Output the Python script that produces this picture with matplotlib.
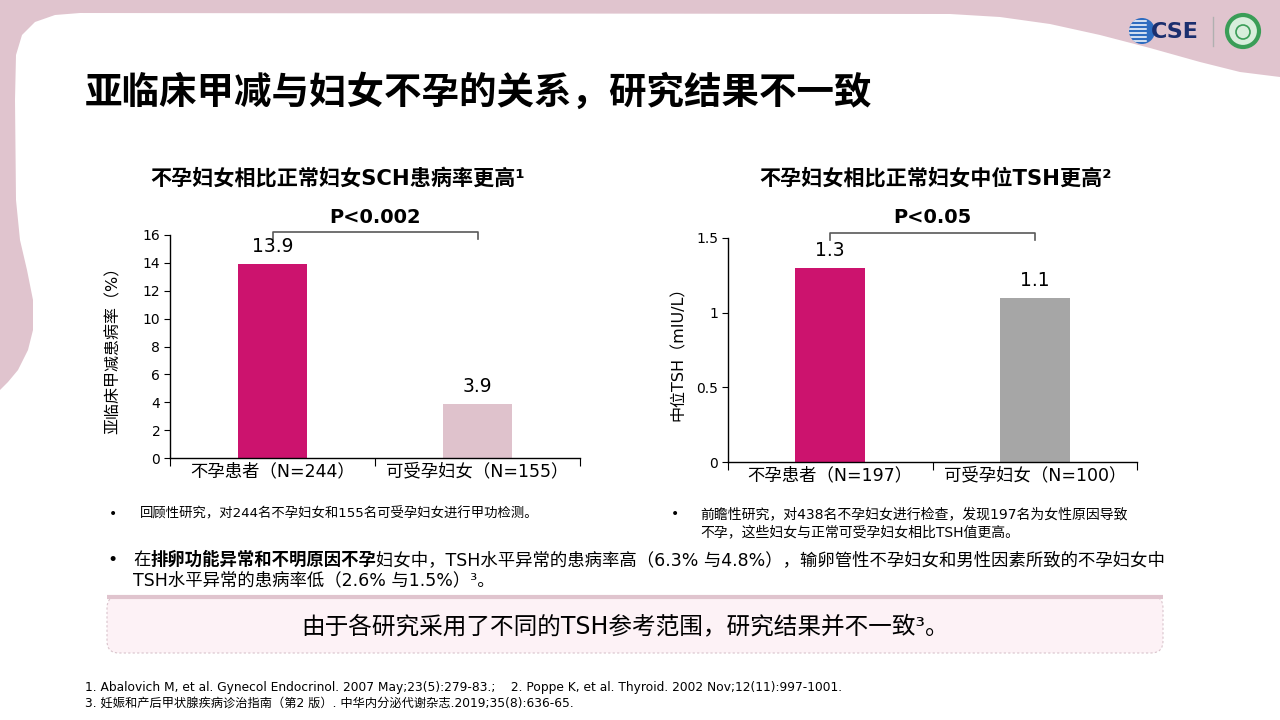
import matplotlib
matplotlib.use("Agg")
import matplotlib.pyplot as plt
from matplotlib.patches import Polygon, Circle, FancyBboxPatch

plt.rcParams['font.family'] = ['DejaVu Sans', 'Noto Sans CJK SC']

# ---- data ----
left_title = "不孕妇女相比正常妇女SCH患病率更高¹"
left_cats = ["不孕患者（N=244）", "可受孕妇女（N=155）"]
left_vals = [13.9, 3.9]
left_labels = ["13.9", "3.9"]
left_p = "P<0.002"
left_ylabel = "亚临床甲减患病率（%）"
left_yticks = [0, 2, 4, 6, 8, 10, 12, 14, 16]

right_title = "不孕妇女相比正常妇女中位TSH更高²"
right_cats = ["不孕患者（N=197）", "可受孕妇女（N=100）"]
right_vals = [1.3, 1.1]
right_labels = ["1.3", "1.1"]
right_p = "P<0.05"
right_ylabel = "中位TSH（mIU/L）"
right_yticks = [0, 0.5, 1, 1.5]
right_yticklabels = ["0", "0.5", "1", "1.5"]

MAGENTA = "#cc136e"
LIGHT_PINK = "#dfc2cc"
GREY = "#a6a6a6"
BG_PINK = "#e0c4ce"

fig = plt.figure(figsize=(12.8, 7.2), dpi=100)
fig.patch.set_facecolor("white")

# background / overlay axes in pixel coords
bg = fig.add_axes([0, 0, 1, 1], zorder=0)
bg.set_xlim(0, 1280)
bg.set_ylim(720, 0)
bg.axis("off")

top_wave = [(0, 0), (1280, 0), (1280, 77), (1240, 72), (1200, 62), (1150, 48),
            (1100, 35), (1050, 24), (1000, 17), (950, 14), (80, 13), (0, 13)]
bg.add_patch(Polygon(top_wave, closed=True, facecolor=BG_PINK, edgecolor="none"))
left_wave = [(0, 0), (80, 0), (80, 13), (55, 15), (35, 22), (22, 35), (16, 55),
             (15, 100), (16, 200), (20, 240), (27, 270), (33, 300), (33, 330),
             (28, 350), (18, 370), (8, 382), (0, 390)]
bg.add_patch(Polygon(left_wave, closed=True, facecolor=BG_PINK, edgecolor="none"))

# logo
globe = Circle((1142, 31), 13, facecolor="#2d6cc0", edgecolor="none")
bg.add_patch(globe)
for yy in [21, 25, 29, 33, 37, 41]:
    ln, = bg.plot([1126, 1146], [yy, yy], color="white", lw=1.1)
    ln.set_clip_path(globe)
bg.text(1151, 32, "CSE", fontsize=16, fontweight="bold", color="#1b2f6e",
        ha="left", va="center", family="DejaVu Sans")
bg.plot([1213, 1213], [17, 46], color="#b0b0b0", lw=1)
bg.add_patch(Circle((1243, 31), 16, facecolor="#d8eedc", edgecolor="#3a9d57", lw=3))
bg.add_patch(Circle((1243, 32), 7, facecolor="none", edgecolor="#3a9d57", lw=1.2))

# main title
bg.text(85, 92, "亚临床甲减与妇女不孕的关系，研究结果不一致", fontsize=27,
        fontweight="bold", ha="left", va="center",
        family=["Noto Sans CJK SC", "DejaVu Sans"])


def bar_panel(rect, vals, labels, cats, colors, yticks, yticklabels, ylabel,
              bracket_y, tick_y, ptext, ptext_y, title, title_xy, ylabel_x):
    ax = fig.add_axes(rect, zorder=1)
    ax.patch.set_alpha(0)
    x = list(range(len(vals)))
    ax.bar(x, vals, width=0.34, color=colors)
    ax.set_xlim(-0.5, 1.5)
    ax.set_ylim(yticks[0], yticks[-1])
    ax.set_yticks(yticks)
    ax.set_yticklabels(yticklabels, fontsize=10)
    ax.set_xticks([-0.5, 0.5, 1.5])
    ax.set_xticklabels([])
    ax.set_xticks(x, minor=True)
    ax.set_xticklabels(cats, minor=True, fontsize=12.5)
    ax.tick_params(axis="x", which="minor", length=0, pad=3)
    ax.tick_params(axis="x", which="major", length=6, direction="out")
    ax.tick_params(axis="y", length=4, direction="out", pad=3)
    for s in ["top", "right"]:
        ax.spines[s].set_visible(False)
    for s in ["left", "bottom"]:
        ax.spines[s].set_linewidth(1.0)
    for xi, v, lab in zip(x, vals, labels):
        ax.annotate(lab, (xi, v), xytext=(0, 12.5), textcoords="offset points",
                    ha="center", va="center", fontsize=13.5)
    ax.plot([0, 0, 1, 1], [tick_y, bracket_y, bracket_y, tick_y],
            color="#595959", lw=1.2, clip_on=False)
    ax.text(0.5, ptext_y, ptext, ha="center", va="center", fontsize=14,
            fontweight="bold", clip_on=False)
    bg.text(title_xy[0], title_xy[1], title, ha="center", va="center",
            fontsize=15.2, fontweight="bold")
    bg.text(ylabel_x, 720 - (rect[1] + rect[3] / 2) * 720, ylabel, rotation=90,
            ha="center", va="center", fontsize=11.5)
    return ax


bar_panel([170 / 1280, 262 / 720, 410 / 1280, 223 / 720],
          left_vals, left_labels, left_cats, [MAGENTA, LIGHT_PINK],
          left_yticks, [str(t) for t in left_yticks], left_ylabel,
          16.2, 15.7, left_p, 17.25, left_title, (338, 178), 113)

bar_panel([728 / 1280, 258 / 720, 409 / 1280, 224 / 720],
          right_vals, right_labels, right_cats, [MAGENTA, GREY],
          right_yticks, right_yticklabels, right_ylabel,
          1.533, 1.485, right_p, 1.635, right_title, (936, 178), 678)

# bullets under charts
small = 10
bg.text(113, 514, "•", fontsize=small, ha="center", va="center")
bg.text(140, 514, "回顾性研究，对244名不孕妇女和155名可受孕妇女进行甲功检测。",
        fontsize=9.6, ha="left", va="center")
bg.text(675, 514, "•", fontsize=small, ha="center", va="center")
bg.text(700, 514, "前瞻性研究，对438名不孕妇女进行检查，发现197名为女性原因导致",
        fontsize=small, ha="left", va="center")
bg.text(700, 532, "不孕，这些妇女与正常可受孕妇女相比TSH值更高。",
        fontsize=small, ha="left", va="center")

# main bullet with bold part
mid = 12.5
bg.text(113, 560, "•", fontsize=mid, ha="center", va="center")
t1 = bg.text(133, 560, "在", fontsize=mid, ha="left", va="center")
t2 = bg.annotate("排卵功能异常和不明原因不孕", xy=(1, 0), xycoords=t1,
                 fontsize=mid, fontweight="bold", ha="left", va="bottom")
bg.annotate("妇女中，TSH水平异常的患病率高（6.3% 与4.8%），输卵管性不孕妇女和男性因素所致的不孕妇女中",
            xy=(1, 0), xycoords=t2, fontsize=mid, ha="left", va="bottom")
bg.text(133, 580, "TSH水平异常的患病率低（2.6% 与1.5%）³。", fontsize=mid,
        ha="left", va="center")

# conclusion box
box = FancyBboxPatch((107, 596), 1056, 57, boxstyle="round,pad=0,rounding_size=12",
                     facecolor="#fdf2f6", edgecolor="#d9c3cb", lw=0.8,
                     linestyle=(0, (2, 2)))
bg.add_patch(box)
bg.plot([107, 1163], [597, 597], color=BG_PINK, lw=3, solid_capstyle="butt")
bg.text(625, 626, "由于各研究采用了不同的TSH参考范围，研究结果并不一致³。",
        fontsize=17, ha="center", va="center")

# references
bg.text(85, 688, "1. Abalovich M, et al. Gynecol Endocrinol. 2007 May;23(5):279-83.;    "
        "2. Poppe K, et al. Thyroid. 2002 Nov;12(11):997-1001.",
        fontsize=8.8, ha="left", va="center")
bg.text(85, 703, "3. 妊娠和产后甲状腺疾病诊治指南（第2 版）. 中华内分泌代谢杂志.2019;35(8):636-65.",
        fontsize=8.8, ha="left", va="center")

fig.savefig("out.png", dpi=100)
